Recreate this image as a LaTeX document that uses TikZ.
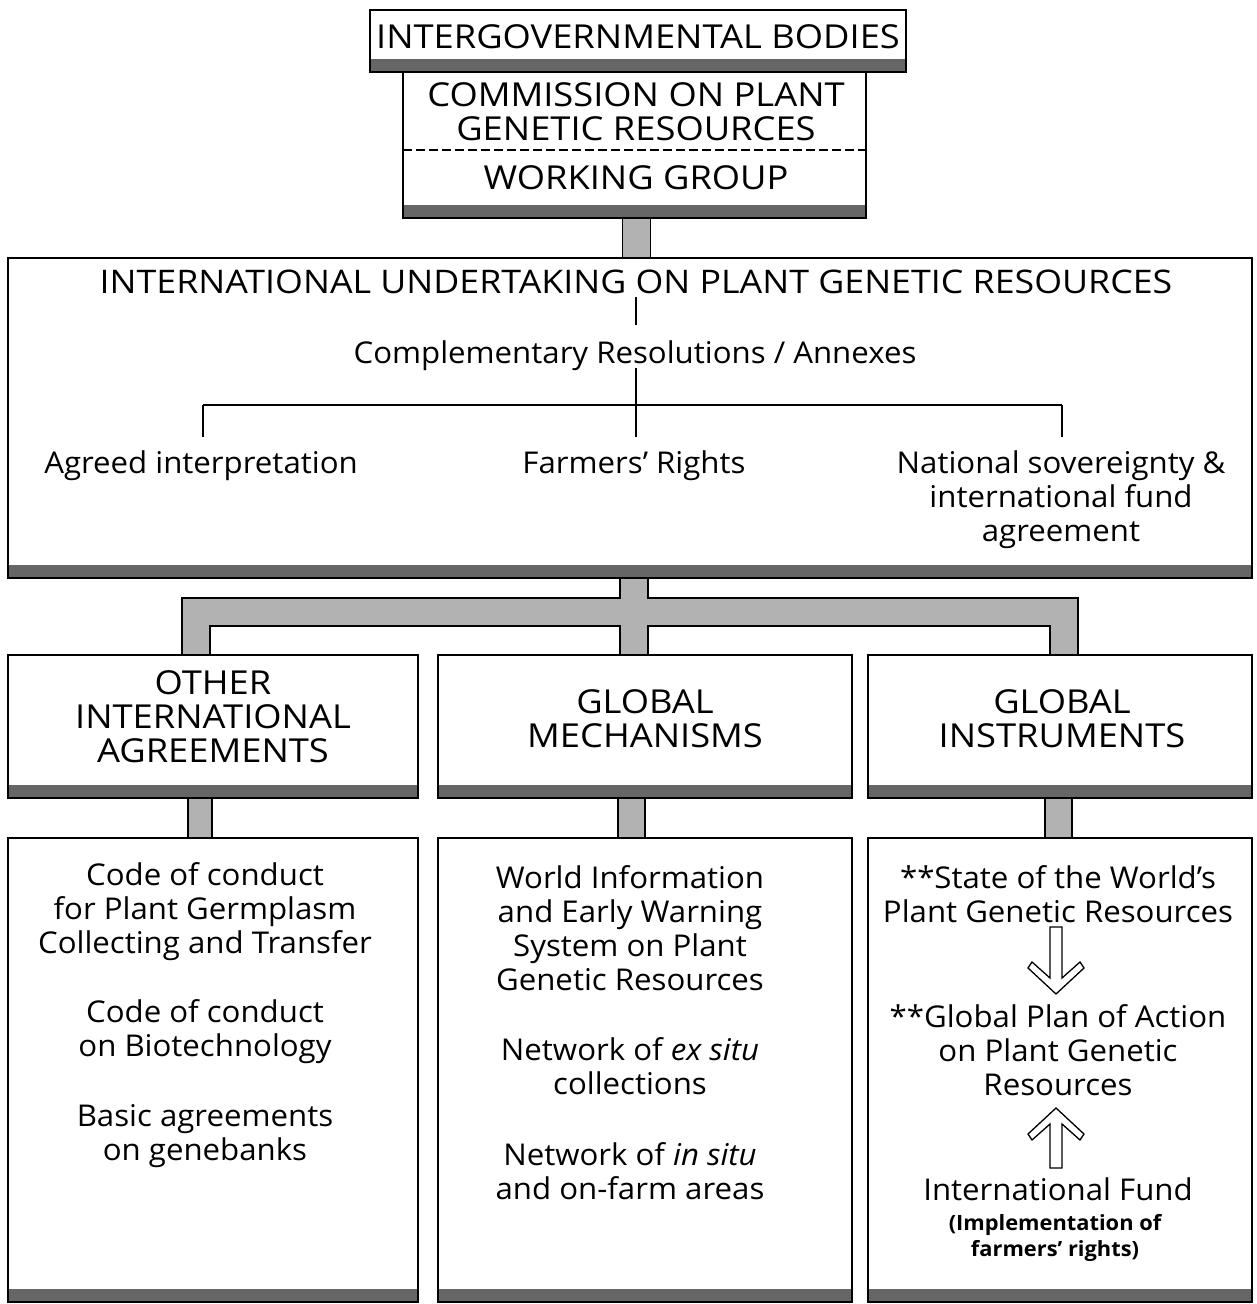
\documentclass[tikz,border=0pt]{standalone}
\usepackage{fontspec}
\setmainfont{Open Sans}[FakeStretch=1.04]
\newfontfamily\capfont{Open Sans}[FakeStretch=1.1]
\usetikzlibrary{calc}
\newcommand\mkbox[5]{%
  \node[boxst, minimum width={(#4-#2)*1pt}, minimum height={(#5-#3)*1pt}] (#1) at (#2,#3) {};
  \fill[shd] (#2,#5-13) rectangle (#4,#5);
  \draw[line width=1.5pt] (#2,#3) rectangle (#4,#5);
}
\begin{document}
\begin{tikzpicture}[x=1pt,y=-1pt,
  boxst/.style={draw, line width=1.5pt, fill=white, inner sep=0pt, outer sep=0pt, anchor=north west},
  shd/.style={fill=black!60},
  conn/.style={draw, line width=1.3pt, fill=black!30},
  hol/.style={draw, line width=1.3pt, fill=white, line join=miter},
  capA/.style={font=\capfont\fontsize{33}{34}\selectfont, align=center, inner sep=0pt, anchor=base},
  capB/.style={font=\capfont\fontsize{32.5}{34}\selectfont, align=center, inner sep=0pt, anchor=base},
  txt/.style={font=\fontsize{30}{34}\selectfont, align=center, inner sep=0pt, anchor=base},
  small/.style={font=\fontsize{21}{26}\selectfont\bfseries, align=center, inner sep=0pt, anchor=base},
  thin/.style={line width=1.2pt}]
\useasboundingbox (0,0) rectangle (1257,1304);
% boxes
\mkbox{comm}{403}{70}{866}{218}
\mkbox{top}{370}{10}{906}{72}
\mkbox{main}{8}{258}{1252}{578}
\mkbox{oth}{8}{655}{418}{798}
\mkbox{gm}{438}{655}{852}{798}
\mkbox{gi}{868}{655}{1252}{798}
\mkbox{cod}{8}{838}{418}{1302}
\mkbox{wi}{438}{838}{852}{1302}
\mkbox{sw}{868}{838}{1252}{1302}
\draw[line width=1.2pt, dash pattern=on 9pt off 4pt] (comm.west |- 0,150) -- (comm.east |- 0,150);
% connectors
\draw[conn] ($(comm.south)+(-12,0)$) rectangle ($(comm.south |- main.north)+(16,0)$);
\coordinate (stemL) at (620,0);
\coordinate (stemR) at (648,0);
\coordinate (legLa) at (182,0);
\coordinate (legLb) at (210,0);
\coordinate (legRa) at (1050,0);
\coordinate (legRb) at (1078,0);
\coordinate (barT) at (0,598);
\coordinate (barB) at (0,626);
\draw[conn] (stemL |- main.south) -- (stemL |- barT) -- (legLa |- barT) -- (legLa |- oth.north)
  -- (legLb |- oth.north) -- (legLb |- barB) -- (stemL |- barB) -- (stemL |- gm.north)
  -- (stemR |- gm.north) -- (stemR |- barB) -- (legRa |- barB) -- (legRa |- gi.north)
  -- (legRb |- gi.north) -- (legRb |- barT) -- (stemR |- barT) -- (stemR |- main.south) -- cycle;
\draw[conn] ($(oth.south)+(-25,0)$) rectangle ($(cod.north)+(-1,0)$);
\draw[conn] ($(gm.south)+(-27,0)$) rectangle ($(wi.north)+(0,0)$);
\draw[conn] ($(gi.south)+(-15,0)$) rectangle ($(sw.north)+(12,0)$);
% top texts
\node[capA] (tIG) at (638,48) {INTERGOVERNMENTAL BODIES};
\node[capA] (tCom) at (636,140) {COMMISSION ON PLANT\\GENETIC RESOURCES};
\node[capA] (tWG) at (636,189) {WORKING GROUP};
% main box
\node[capB] (tIU) at (636,293) {INTERNATIONAL UNDERTAKING ON PLANT GENETIC RESOURCES};
\node[txt] (tCR) at (635,363) {Complementary Resolutions / Annexes};
\draw[thin] (636,297) -- (636,325);
\coordinate (brL) at (203,405);
\coordinate (brR) at (1062,405);
\coordinate (brM) at (636,405);
\draw[thin] (636,368) -- (brM);
\draw[thin] (brL) -- (brR);
\draw[thin] (brL) -- ++(0,32);
\draw[thin] (brM) -- ++(0,32);
\draw[thin] (brR) -- ++(0,32);
\node[txt] (tAI) at (201,473) {Agreed interpretation};
\node[txt] (tFR) at (634,473) {Farmers’ Rights};
\node[txt] (tNS) at (1061,541) {National sovereignty \&\\international fund\\agreement};
% middle boxes
\node[capA] (tOIA) at (213,762) {OTHER\\INTERNATIONAL\\AGREEMENTS};
\node[capA] (tGM) at (645,747) {GLOBAL\\MECHANISMS};
\node[capA] (tGI) at (1062,747) {GLOBAL\\INSTRUMENTS};
% bottom left
\node[txt] (c1) at (205,953) {Code of conduct\\for Plant Germplasm\\Collecting and Transfer};
\node[txt] (c2) at (205,1056) {Code of conduct\\on Biotechnology};
\node[txt] (c3) at (205,1160) {Basic agreements\\on genebanks};
% bottom middle
\node[txt] (w1) at (630,990) {World Information\\and Early Warning\\System on Plant\\Genetic Resources};
\node[txt] (w2) at (630,1094) {Network of \textit{ex situ}\\collections};
\node[txt] (w3) at (630,1199) {Network of \textit{in situ}\\and on-farm areas};
% bottom right
\node[txt] (s1) at (1058,922) {**State of the World’s\\Plant Genetic Resources};
\node[txt] (s2) at (1058,1095) {**Global Plan of Action\\on Plant Genetic\\Resources};
\node[txt] (s3) at (1058,1200) {International Fund};
\node[small] (s4) at (1055,1256) {(Implementation of\\farmers’ rights)};
% hollow arrows
\draw[hol] (1050,927) -- (1050,978) -- (1032,962) -- (1028,968) -- (1056,994) -- (1084,968) -- (1080,962) -- (1062,978) -- (1062,927) -- cycle;
\draw[hol] (1050,1168) -- (1050,1124) -- (1032,1140) -- (1028,1134) -- (1056,1108) -- (1084,1134) -- (1080,1140) -- (1062,1124) -- (1062,1168) -- cycle;
\end{tikzpicture}
\end{document}
